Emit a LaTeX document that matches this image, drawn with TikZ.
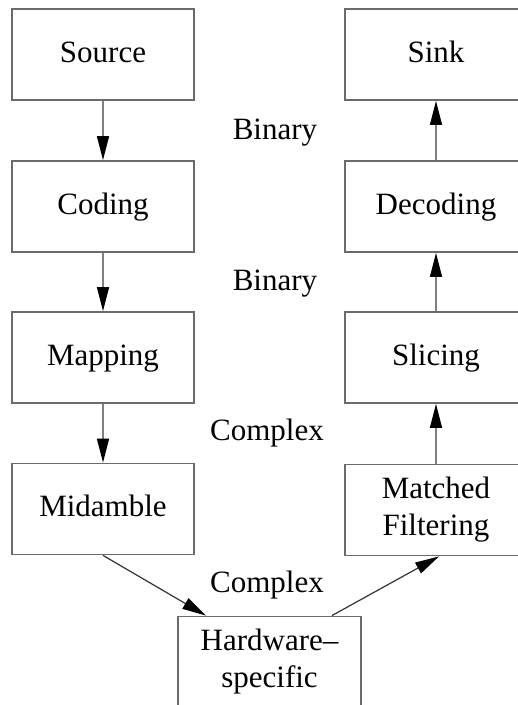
\documentclass[tikz,border=0pt]{standalone}
\usepackage{fontspec}
\setmainfont{Liberation Serif}
\usetikzlibrary{arrows.meta}
\begin{document}
\begin{tikzpicture}[x=1pt,y=1pt,
  font=\fontsize{31}{37}\selectfont,
  blk/.style={draw=black!58, line width=1.8pt, minimum width=182pt,
    minimum height=91pt, inner sep=0pt, text height=22pt, text depth=7pt},
  blktwo/.style={draw=black!58, line width=1.8pt, minimum width=182pt,
    minimum height=91pt, inner sep=0pt, align=center},
  flow/.style={draw=black!50, line width=1.4pt,
    -{Triangle[length=24pt,width=12pt,color=black]}},
  slant/.style={flow, draw=black!80, line width=1.2pt},
  lbl/.style={anchor=base, inner sep=0pt}]
\useasboundingbox (0,0) rectangle (518,-705);
\clip (0,0) rectangle (518,-705);
% transmitter chain
\node[blk] (src) at (103,-54.5) {Source};
\node[blk] (cod) at (103,-206.5) {Coding};
\node[blk] (map) at (103,-357.5) {Mapping};
\node[blk] (mid) at (103,-509) {Midamble};
% receiver chain
\node[blk] (snk) at (436,-54.5) {Sink};
\node[blk] (dec) at (436,-206.5) {Decoding};
\node[blk] (slc) at (436,-357.5) {Slicing};
\node[blktwo] (mf) at (436,-510) {Matched\\Filtering};
% front end
\node[blktwo, minimum width=183pt] (hw) at (269.5,-662) {Hardware–\\specific};
% signal flow
\draw[flow] (src) -- (cod);
\draw[flow] (cod) -- (map);
\draw[flow] (map) -- (mid);
\draw[flow] (mf) -- (slc);
\draw[flow] (slc) -- (dec);
\draw[flow] (dec) -- (snk);
\draw[slant] (mid.south) -- ([xshift=29pt]hw.north west);
\draw[slant] ([xshift=-30pt]hw.north east) -- ([xshift=3pt]mf.south);
% data types between stages
\node[lbl] (b1) at (275,-139) {Binary};
\node[lbl] (b2) at (275,-290) {Binary};
\node[lbl] (c1) at (267,-440) {Complex};
\node[lbl] (c2) at (267,-592) {Complex};
\end{tikzpicture}
\end{document}
